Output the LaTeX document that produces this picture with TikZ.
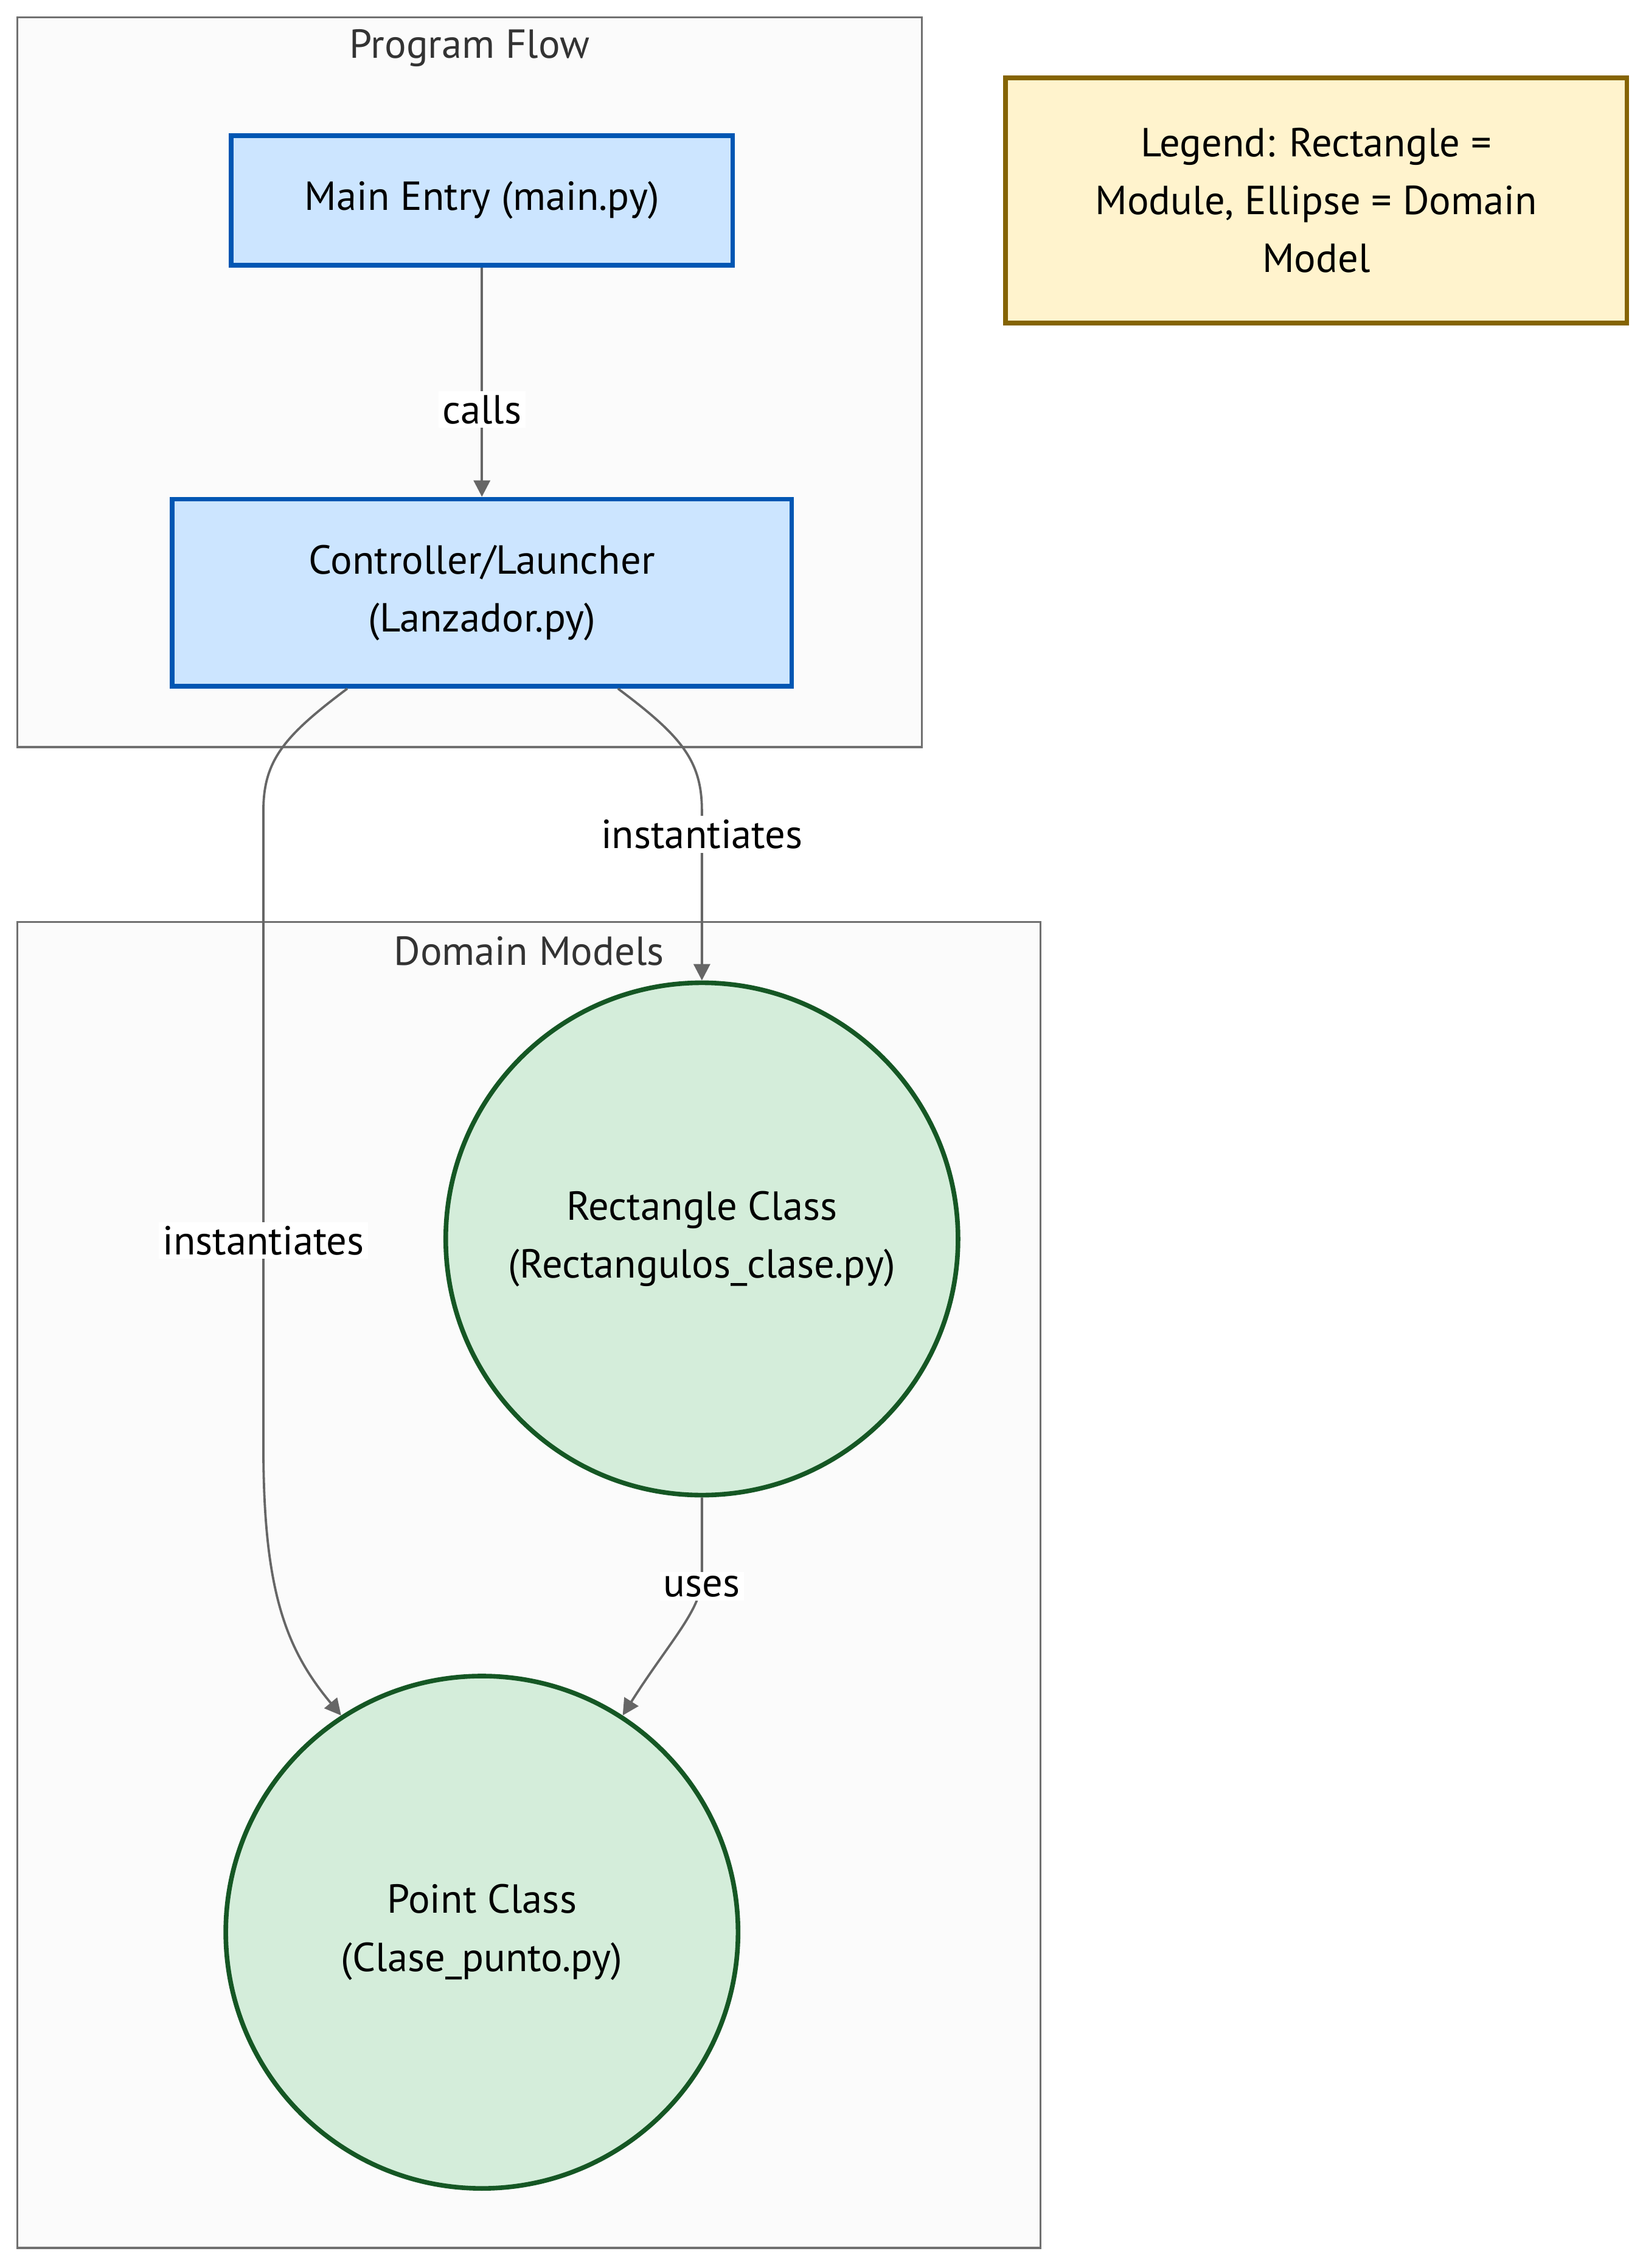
\documentclass[tikz,border=0pt]{standalone}
\usepackage{fontspec}
\setmainfont{PT Sans}
\usepackage{tikz}
\usetikzlibrary{arrows.meta}
\usetikzlibrary{positioning}

\definecolor{modfill}{HTML}{CCE5FF}
\definecolor{moddraw}{HTML}{0056B3}
\definecolor{domfill}{HTML}{D4EDDA}
\definecolor{domdraw}{HTML}{155724}
\definecolor{legfill}{HTML}{FFF3CD}
\definecolor{legdraw}{HTML}{856404}
\definecolor{clusfill}{HTML}{FBFBFB}
\definecolor{clusdraw}{HTML}{707070}
\definecolor{edgecol}{HTML}{666666}

\begin{document}
\begin{tikzpicture}[x=0.75pt, y=-0.75pt,
  txt/.style={font=\fontsize{21pt}{30pt}\selectfont, align=center},
  module/.style={txt, draw=moddraw, fill=modfill, line width=2.4pt, rectangle},
  domnode/.style={txt, draw=domdraw, fill=domfill, line width=2.4pt, circle, minimum size=265.5pt, inner sep=0pt},
  legendbox/.style={txt, draw=legdraw, fill=legfill, line width=2.4pt, minimum width=322pt, minimum height=127pt},
  cluster/.style={draw=clusdraw, fill=clusfill, line width=1.2pt},
  clustitle/.style={txt, text=black!80},
  edge/.style={draw=edgecol, line width=1.2pt, ->, >={Triangle[length=8.5pt,width=8.5pt]}},
  lbl/.style={txt, fill=white, inner sep=2pt}]

% page and margins
\fill[white] (0,0) rectangle (1135,1567);
\useasboundingbox (0,0) rectangle (1135,1567);

% the two groups
\draw[cluster] (12,12) rectangle (637,516);
\node[clustitle] (flowtitle) at (324.5,33) {Program Flow};
\draw[cluster] (12,637) rectangle (719,1553);
\node[clustitle] (domtitle) at (365.5,657) {Domain Models};

% modules
\node[module, minimum width=260pt, minimum height=67pt] (main) at (333,138.5) {Main Entry (main.py)};
\node[module, minimum width=321pt, minimum height=97pt] (ctrl) at (333,409.5) {Controller/Launcher\\(Lanzador.py)};

% domain models
\node[domnode] (rect) at (485,856) {Rectangle Class\\(Rectangulos\_clase.py)};
\node[domnode] (pt) at (333,1335) {Point Class\\(Clase\_punto.py)};

% legend
\node[legendbox] (legend) at (909.5,138.5) {Legend: Rectangle =\\Module, Ellipse = Domain\\Model};

% edges
\draw[edge] (main.south) -- node[lbl, pos=0.62] {calls} (ctrl.north);

\coordinate (rbend) at (485,560);
\draw[edge] ([xshift=70.5pt]ctrl.south) .. controls (470,508) and (485,525) .. (rbend)
  -- node[lbl, pos=0.14] {instantiates} (rect.north);

\coordinate (lbend) at (182,560);
\coordinate (ldown) at (182,1000);
\draw[edge] ([xshift=-69.75pt]ctrl.south) .. controls (197,508) and (182,525) .. (lbend)
  -- node[lbl, pos=0.675] {instantiates} (ldown)
  .. controls (182,1100) and (198,1140) .. (pt.123);

\coordinate (ubend) at (485,1090);
\draw[edge] (rect.south) -- (ubend)
  .. controls (485,1112) and (462,1135) .. (pt.57);
\node[lbl] (useslbl) at (485,1096) {uses};

\end{tikzpicture}
\end{document}
